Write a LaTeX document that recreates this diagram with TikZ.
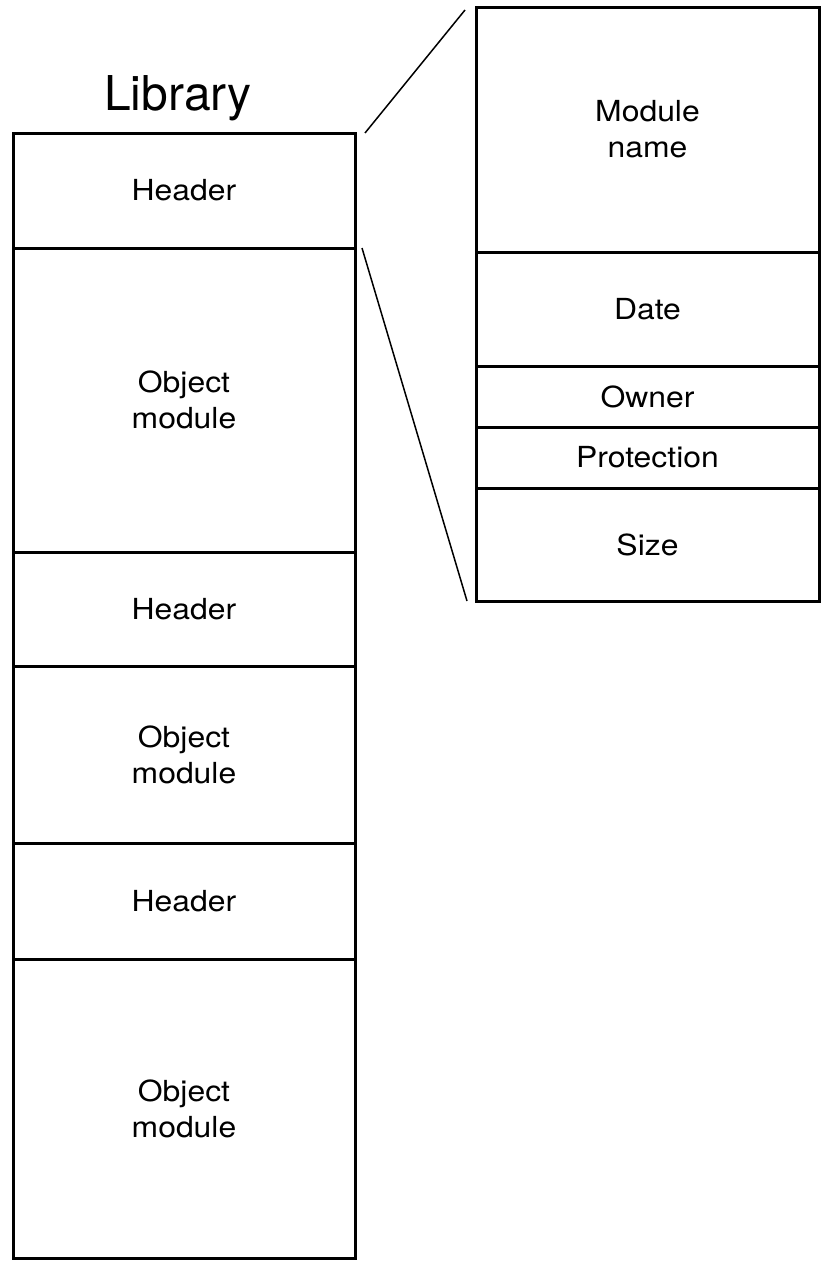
\documentclass[tikz,border=0pt]{standalone}
\usepackage{fontspec}
\setmainfont{TeX Gyre Heros}
\newfontfamily\fieldfont{TeX Gyre Heros}[FakeStretch=1.1]
\usetikzlibrary{positioning}

\begin{document}
\begin{tikzpicture}[x=1pt, y=1pt,
  field/.style={draw, line width=3pt, outer sep=0pt, inner sep=0pt, align=center,
    font=\fieldfont\fontsize{29}{36}\selectfont},
  libfield/.style={field, minimum width=342pt},
  entryfield/.style={field, minimum width=343pt},
  zoomline/.style={line width=1.5pt}]
  \useasboundingbox (0,0) rectangle (821,-1261);

  % Library: headers and object modules stacked
  \node[font=\fontsize{48}{48}\selectfont, anchor=base] (title) at (178,-110) {Library};
  \node[libfield, minimum height=115pt, anchor=north west] (hdrA) at (13,-133) {Header};
  \node[libfield, minimum height=304pt, below=0pt of hdrA] (objA) {Object\\module};
  \node[libfield, minimum height=114pt, below=0pt of objA] (hdrB) {Header};
  \node[libfield, minimum height=177pt, below=0pt of hdrB] (objB) {Object\\module};
  \node[libfield, minimum height=116pt, below=0pt of objB] (hdrC) {Header};
  \node[libfield, minimum height=299pt, below=0pt of hdrC] (objC) {Object\\module};

  % Fields of one header
  \node[entryfield, minimum height=245pt, anchor=north west] (mname) at (476,-7) {Module\\name};
  \node[entryfield, minimum height=114pt, below=0pt of mname] (date) {Date};
  \node[entryfield, minimum height=61pt, below=0pt of date] (owner) {Owner};
  \node[entryfield, minimum height=61pt, below=0pt of owner] (prot) {Protection};
  \node[entryfield, minimum height=113pt, below=0pt of prot] (size) {Size};

  % Expansion lines
  \draw[zoomline] ([xshift=10pt]hdrA.north east) -- ([xshift=-11pt,yshift=-3pt]mname.north west);
  \draw[zoomline] ([xshift=7pt]hdrA.south east) -- ([xshift=-9pt]size.south west);
\end{tikzpicture}
\end{document}
